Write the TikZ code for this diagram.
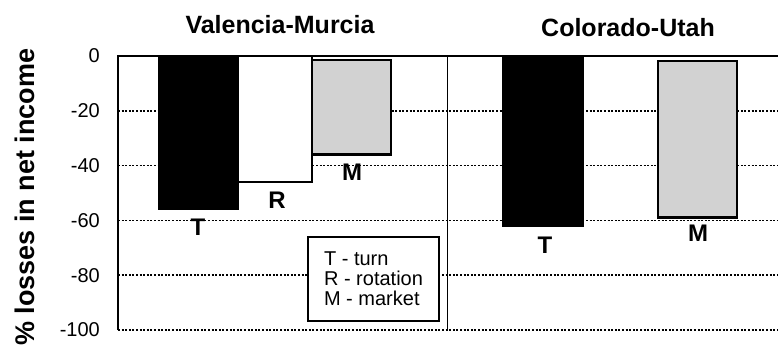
\documentclass[tikz,border=0pt]{standalone}
\usepackage{fontspec}
\setmainfont{Liberation Sans}

\tikzset{
    gridline/.style={line width=1.7pt, dash pattern=on 2pt off 1.6pt},
    ticklabel/.style={anchor=east, inner sep=0pt, font=\fontsize{20}{20}\selectfont},
    barlabel/.style={inner sep=0pt, font=\fontsize{24}{24}\selectfont\bfseries},
    titlelabel/.style={inner sep=0pt, font=\fontsize{25}{25}\selectfont\bfseries},
}

\begin{document}
\begin{tikzpicture}[x=1pt, y=2.74pt]
    \useasboundingbox (-118,-108.03) rectangle (660,20.44);
    % grid lines and ticks
    \foreach \v in {-20,-40,...,-100}{
        \draw[gridline] (0,\v) -- (660,\v);
    }
    \foreach \v in {0,-20,-40,-60,-80,-100}{
        \node[ticklabel] (tick\v) at (-18,\v) {\v};
    }
    % Valencia-Murcia
    \draw[line width=1.5pt, fill=black] (41,0) rectangle (120,-56);
    \draw[line width=1.5pt, fill=white] (120,0) rectangle (194,-46);
    \draw[line width=2.5pt, fill=gray!35] (194,-1.5) rectangle (273,-36);
    % Colorado-Utah
    \draw[line width=1.5pt, fill=black] (385,0) rectangle (465,-62);
    \draw[line width=2.5pt, fill=gray!35] (540,-1.8) rectangle (619,-59);
    % axes
    \draw[line width=1pt] (329,0) -- (329,-100);
    \draw[line width=2.8pt] (0,-100) -- (0,0) -- (660,0);
    % bar labels
    \node[barlabel] (vt) at (80,-62.4) {T};
    \node[barlabel] (vr) at (159,-52.5) {R};
    \node[barlabel] (vm) at (234,-42.3) {M};
    \node[barlabel] (ct) at (427,-69) {T};
    \node[barlabel] (cm) at (580,-64.6) {M};
    % titles
    \node[titlelabel] (vtitle) at (162,11.3) {Valencia-Murcia};
    \node[titlelabel] (ctitle) at (510,10.2) {Colorado-Utah};
    \node[rotate=90, font=\fontsize{27}{27}\selectfont\bfseries] (ylabel) at (-93,-51.5) {\% losses in net income};
    % legend
    \node[draw, line width=2pt, fill=white, anchor=north west, align=left,
          minimum width=131pt, minimum height=84pt, inner sep=5pt,
          font=\fontsize{20}{20}\selectfont] (legend) at (189,-65.7)
          {T - turn\\R - rotation\\M - market};
\end{tikzpicture}
\end{document}
